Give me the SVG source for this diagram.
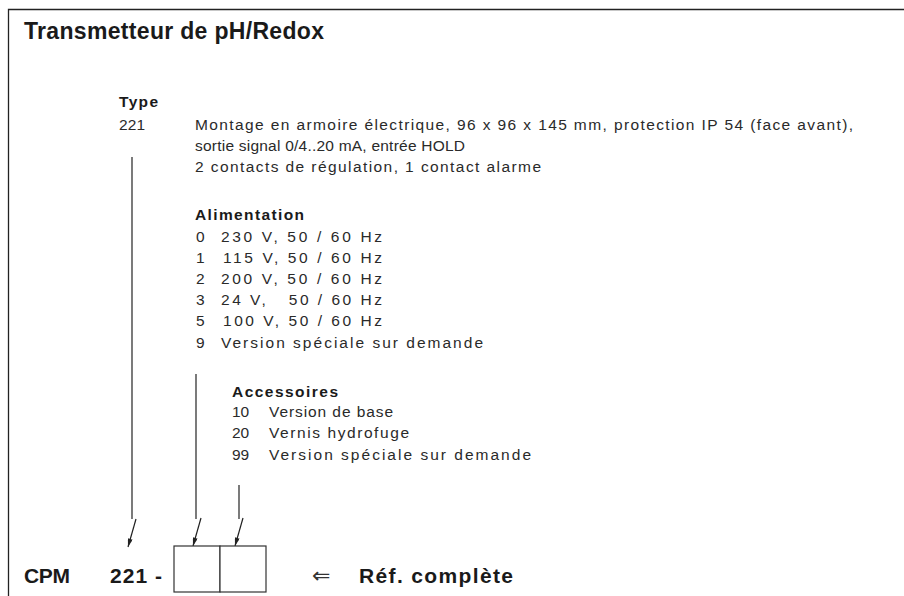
<svg xmlns="http://www.w3.org/2000/svg" width="904" height="596" viewBox="0 0 904 596">
<style>
text{font-family:"Liberation Sans",Arial,Helvetica,sans-serif;fill:#1a1a1a}
.b{font-weight:bold}
.h1{font-size:21px}
.h2{font-size:15.5px}
.t{font-size:15.5px;fill:#2a2a2a}
.ln{stroke:#222;stroke-width:1.2;fill:none}
.box{stroke:#333;stroke-width:1.2;fill:#fff}
</style>
<defs>
<marker id="ah" viewBox="0 0 10 6" refX="10" refY="3" markerWidth="10" markerHeight="5" markerUnits="userSpaceOnUse" orient="auto">
<path d="M0,0 L10,3 L0,6 Z" fill="#222"/>
</marker>
</defs>
<rect width="904" height="596" fill="#fff"/>
<path d="M8.5,596 V9.5 H904" stroke="#222" stroke-width="1.3" fill="none"/>
<g id="title"><text class="b" style="font-size:23px" x="24" y="39" textLength="300" lengthAdjust="spacing">Transmetteur de pH/Redox</text></g>
<g id="type">
<text class="b h2" x="119" y="107" textLength="39" lengthAdjust="spacing">Type</text>
<text class="t" x="119" y="130" textLength="26" lengthAdjust="spacing">221</text>
<text class="t" x="195" y="130" textLength="658" lengthAdjust="spacing">Montage en armoire électrique, 96 x 96 x 145 mm, protection IP 54 (face avant),</text>
<text class="t" x="195" y="151" textLength="270" lengthAdjust="spacing">sortie signal 0/4..20 mA, entrée HOLD</text>
<text class="t" x="195" y="172" textLength="346" lengthAdjust="spacing">2 contacts de régulation, 1 contact alarme</text>
</g>
<g id="alimentation">
<text class="b h2" x="195" y="220" textLength="109" lengthAdjust="spacing">Alimentation</text>
<text class="t" x="196" y="242">0</text><text class="t" x="221" y="242" textLength="161" lengthAdjust="spacing">230 V, 50 / 60 Hz</text>
<text class="t" x="196" y="263">1</text><text class="t" x="223" y="263" textLength="159" lengthAdjust="spacing">115 V, 50 / 60 Hz</text>
<text class="t" x="196" y="284">2</text><text class="t" x="221" y="284" textLength="161" lengthAdjust="spacing">200 V, 50 / 60 Hz</text>
<text class="t" x="196" y="305">3</text><text class="t" x="221" y="305" xml:space="preserve" textLength="161" lengthAdjust="spacing">24 V,   50 / 60 Hz</text>
<text class="t" x="196" y="326">5</text><text class="t" x="223" y="326" textLength="159" lengthAdjust="spacing">100 V, 50 / 60 Hz</text>
<text class="t" x="196" y="348">9</text><text class="t" x="221" y="348" textLength="262" lengthAdjust="spacing">Version spéciale sur demande</text>
</g>
<g id="accessoires">
<text class="b h2" x="232" y="397" textLength="106" lengthAdjust="spacing">Accessoires</text>
<text class="t" x="232" y="417">10</text><text class="t" x="269" y="417" textLength="124" lengthAdjust="spacing">Version de base</text>
<text class="t" x="232" y="438">20</text><text class="t" x="269" y="438" textLength="140" lengthAdjust="spacing">Vernis hydrofuge</text>
<text class="t" x="232" y="460">99</text><text class="t" x="269" y="460" textLength="262" lengthAdjust="spacing">Version spéciale sur demande</text>
</g>
<g id="connectors">
<line class="ln" x1="132" y1="157" x2="132" y2="519"/>
<line class="ln" x1="136" y1="519" x2="128" y2="547" marker-end="url(#ah)"/>
<line class="ln" x1="196" y1="374" x2="196" y2="519"/>
<line class="ln" x1="201" y1="518" x2="193" y2="546" marker-end="url(#ah)"/>
<line class="ln" x1="239" y1="485" x2="239" y2="519"/>
<line class="ln" x1="243" y1="518" x2="235" y2="546" marker-end="url(#ah)"/>
</g>
<g id="boxes">
<rect class="box" x="174" y="546" width="46" height="46"/>
<rect class="box" x="220" y="546" width="46" height="46"/>
</g>
<g id="ref">
<text class="b h1" x="24" y="583" textLength="46" lengthAdjust="spacing">CPM</text>
<text class="b h1" x="110" y="583" xml:space="preserve" textLength="52" lengthAdjust="spacing">221 -</text>
<text x="312" y="583" style="font-family:'DejaVu Sans',sans-serif;font-size:22px;fill:#333">⇐</text>
<text class="b h1" x="359" y="583" textLength="154" lengthAdjust="spacing">Réf. complète</text>
</g>
</svg>
